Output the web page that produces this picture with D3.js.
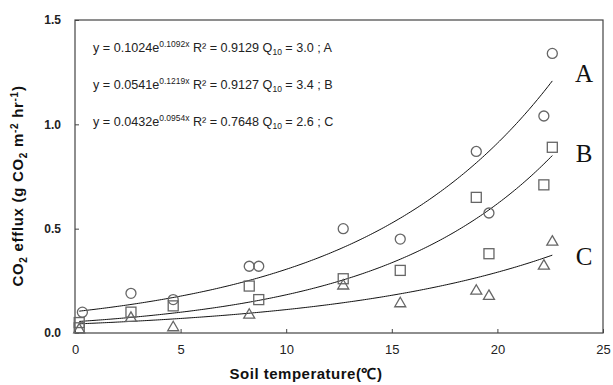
<!DOCTYPE html>
<html>
<head>
<meta charset="utf-8">
<script src="https://cdn.jsdelivr.net/npm/d3@7"></script>
<style>
  body { margin: 0; background: #fff; }
  svg { display: block; }
</style>
</head>
<body>
<div id="chart"></div>
<script>
// soil temperature (x) and CO2 efflux (y) for each plot
const tempA = [0.35, 2.65, 4.65, 8.25, 8.7, 12.7, 15.4, 19.0, 19.6, 22.2, 22.6];
const effluxA = [0.10, 0.19, 0.16, 0.32, 0.32, 0.50, 0.45, 0.87, 0.575, 1.04, 1.34];
const tempB = [0.2, 0.2, 2.65, 4.65, 8.25, 8.7, 12.7, 15.4, 19.0, 19.6, 22.2, 22.6];
const effluxB = [0.05, 0.025, 0.10, 0.13, 0.225, 0.16, 0.26, 0.30, 0.65, 0.38, 0.71, 0.89];
const tempC = [0.2, 2.65, 4.65, 8.25, 12.7, 15.4, 19.0, 19.6, 22.2, 22.6];
const effluxC = [0.02, 0.075, 0.03, 0.09, 0.23, 0.145, 0.205, 0.18, 0.325, 0.44];

// exponential fits y = a * e^(b x)
const fitA = [0.1024, 0.1092];
const fitB = [0.0541, 0.1219];
const fitC = [0.0432, 0.0954];

const xTicks = [0, 5, 10, 15, 20, 25];
const yTicks = [0, 0.5, 1.0, 1.5];

const eqLines = [
  { a: '0.1024', b: '0.1092x', r2: '0.9129', q: '3.0', name: 'A' },
  { a: '0.0541', b: '0.1219x', r2: '0.9127', q: '3.4', name: 'B' },
  { a: '0.0432', b: '0.0954x', r2: '0.7648', q: '2.6', name: 'C' }
];

const W = 613, H = 385;
const m = { left: 75, right: 10, top: 20, bottom: 52 };

const svg = d3.select('#chart').append('svg')
  .attr('width', W).attr('height', H);

const x = d3.scaleLinear().domain([0, 25]).range([m.left, W - m.right]);
const y = d3.scaleLinear().domain([0, 1.5]).range([H - m.bottom, m.top]);

// frame
svg.append('rect')
  .attr('x', x(0)).attr('y', y(1.5))
  .attr('width', x(25) - x(0)).attr('height', y(0) - y(1.5))
  .attr('fill', 'none').attr('stroke', '#444').attr('stroke-width', 1.2);

// axes, ticks pointing inside
const xAxis = svg.append('g')
  .attr('transform', `translate(0,${y(0)})`)
  .call(d3.axisBottom(x).tickValues(xTicks).tickSize(-4).tickPadding(12).tickFormat(d3.format('d')));
xAxis.select('.domain').remove();
xAxis.selectAll('line').attr('stroke', '#444');
xAxis.selectAll('text')
  .attr('font-family', 'Liberation Sans, Arial, sans-serif')
  .attr('font-size', 13).attr('fill', '#222');

const yAxis = svg.append('g')
  .attr('transform', `translate(${x(0)},0)`)
  .call(d3.axisLeft(y).tickValues(yTicks).tickSize(-4).tickPadding(14).tickFormat(d3.format('.1f')));
yAxis.select('.domain').remove();
yAxis.selectAll('line').attr('stroke', '#444');
yAxis.selectAll('text')
  .attr('font-family', 'Liberation Sans, Arial, sans-serif')
  .attr('font-weight', 'bold')
  .attr('font-size', 12).attr('fill', '#222');

// fitted curves
const line = d3.line().x(d => x(d[0])).y(d => y(d[1]));
[fitA, fitB, fitC].forEach(f => {
  const pts = d3.range(0.2, 22.61, 0.1).map(t => [t, f[0] * Math.exp(f[1] * t)]);
  svg.append('path')
    .attr('d', line(pts))
    .attr('fill', 'none').attr('stroke', '#111').attr('stroke-width', 1);
});

// markers
const mk = svg.append('g').attr('fill', 'none').attr('stroke', '#666').attr('stroke-width', 1.3);
mk.selectAll('circle').data(d3.zip(tempA, effluxA)).join('circle')
  .attr('cx', d => x(d[0])).attr('cy', d => y(d[1])).attr('r', 5);
mk.selectAll('rect').data(d3.zip(tempB, effluxB)).join('rect')
  .attr('x', d => x(d[0]) - 5).attr('y', d => y(d[1]) - 5)
  .attr('width', 10).attr('height', 10);
mk.selectAll('path.tri').data(d3.zip(tempC, effluxC)).join('path')
  .attr('class', 'tri')
  .attr('d', d => {
    const cx = x(d[0]), cy = y(d[1]);
    return `M${cx},${cy - 5.5}L${cx + 5.5},${cy + 4}L${cx - 5.5},${cy + 4}Z`;
  });

// equations
const eq = svg.append('g')
  .attr('font-family', 'Liberation Sans, Arial, sans-serif')
  .attr('font-size', 12.6).attr('fill', '#222');
eqLines.forEach((e, i) => {
  const t = eq.append('text').attr('x', 93).attr('y', 52 + i * 37);
  t.append('tspan').text(`y = ${e.a}e`);
  t.append('tspan').attr('dy', -5).attr('font-size', 8.5).text(e.b);
  t.append('tspan').attr('dy', 5).text(` R² = ${e.r2} Q`);
  t.append('tspan').attr('dy', 3).attr('font-size', 8.5).text('10');
  t.append('tspan').attr('dy', -3).text(` = ${e.q} ; ${e.name}`);
});

// series labels
svg.append('g')
  .attr('font-family', 'Liberation Serif, Times New Roman, serif')
  .attr('font-size', 25).attr('fill', '#111')
  .selectAll('text').data(['A', 'B', 'C']).join('text')
  .attr('x', 584).attr('text-anchor', 'middle')
  .attr('y', (d, i) => [82, 162, 265][i])
  .text(d => d);

// axis titles
svg.append('text')
  .attr('x', 306).attr('y', 379).attr('text-anchor', 'middle')
  .attr('font-family', 'Liberation Sans, Arial, sans-serif')
  .attr('font-weight', 'bold').attr('font-size', 15).attr('letter-spacing', 0.5)
  .attr('fill', '#111')
  .text('Soil temperature(℃)');

const yt = svg.append('text')
  .attr('transform', 'translate(23,186) rotate(-90)')
  .attr('text-anchor', 'middle')
  .attr('font-family', 'Liberation Sans, Arial, sans-serif')
  .attr('font-weight', 'bold').attr('font-size', 15).attr('letter-spacing', 0.7)
  .attr('fill', '#111');
yt.append('tspan').text('CO');
yt.append('tspan').attr('dy', 4).attr('font-size', 10).text('2');
yt.append('tspan').attr('dy', -4).text(' efflux (g CO');
yt.append('tspan').attr('dy', 4).attr('font-size', 10).text('2');
yt.append('tspan').attr('dy', -4).text(' m');
yt.append('tspan').attr('dy', -5).attr('font-size', 10).text('-2');
yt.append('tspan').attr('dy', 5).text(' hr');
yt.append('tspan').attr('dy', -5).attr('font-size', 10).text('-1');
yt.append('tspan').attr('dy', 5).text(')');
</script>
</body>
</html>
